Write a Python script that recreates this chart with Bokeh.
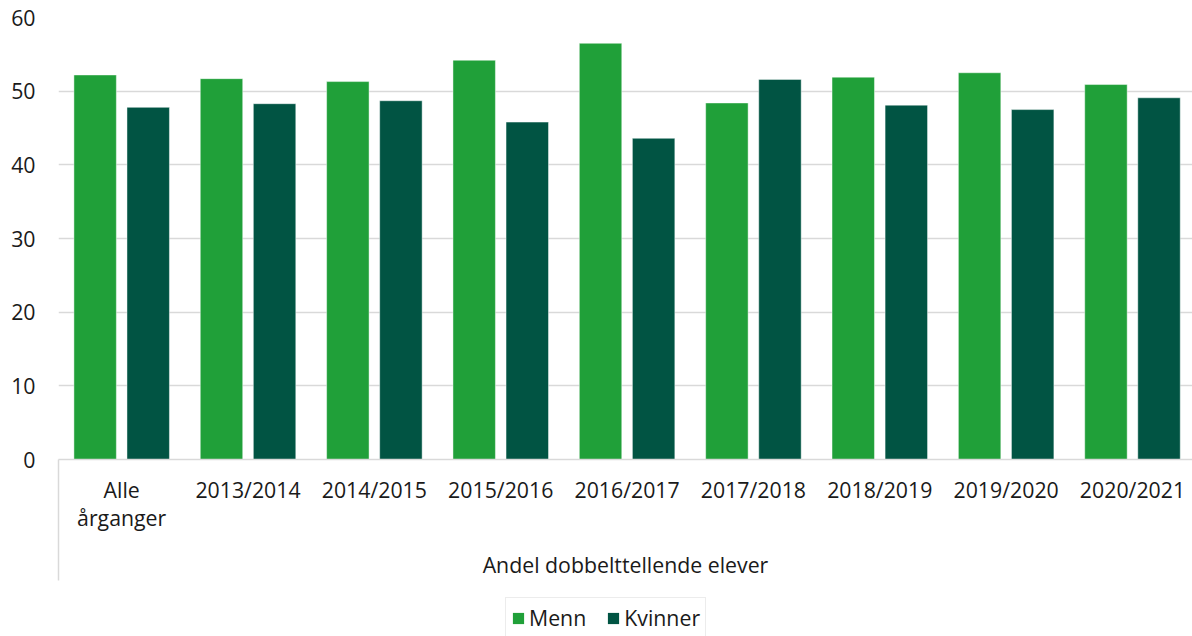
from bokeh.plotting import figure
from bokeh.layouts import column
from bokeh.models import (ColumnDataSource, Range1d, FixedTicker, Legend, LegendItem)
from bokeh.embed import file_html
from bokeh.resources import INLINE

categories = ["Alle\nårganger", "2013/2014", "2014/2015", "2015/2016", "2016/2017",
              "2017/2018", "2018/2019", "2019/2020", "2020/2021"]
menn = [52.2, 51.7, 51.3, 54.2, 56.5, 48.4, 51.9, 52.5, 50.9]
kvinner = [47.8, 48.3, 48.7, 45.8, 43.6, 51.6, 48.1, 47.5, 49.1]
y_ticks = [0, 10, 20, 30, 40, 50, 60]
group_label = "Andel dobbelttellende elever"
series_names = ["Menn", "Kvinner"]
colors = ["#20a039", "#015443"]

FONT = "Open Sans"
TXT = "#1a1a1a"
GRID = "#d9d9d9"
FS = "21.3px"

idx = list(range(len(categories)))
OFF = 0.21
source = ColumnDataSource(data=dict(
    idx=idx,
    xm=[i - OFF for i in idx],
    xk=[i + OFF for i in idx],
    menn=menn, kvinner=kvinner))

p = figure(width=1192, height=590, x_range=Range1d(-0.5, len(categories) - 0.525),
           y_range=Range1d(0, 60), output_backend="svg", toolbar_location=None,
           min_border_left=58, min_border_right=0, min_border_top=17,
           min_border_bottom=131)
p.outline_line_color = None
p.background_fill_color = "white"
p.border_fill_color = "white"

r1 = p.vbar(x="xm", top="menn", width=0.336, source=source, fill_color=colors[0],
            line_color="white", line_alpha=0.45, line_width=1)
r2 = p.vbar(x="xk", top="kvinner", width=0.336, source=source, fill_color=colors[1],
            line_color="white", line_alpha=0.45, line_width=1)

# y axis
p.yaxis.ticker = FixedTicker(ticks=y_ticks)
p.yaxis.axis_line_color = None
p.yaxis.major_tick_line_color = None
p.yaxis.minor_tick_line_color = None
p.yaxis.major_tick_in = 0
p.yaxis.major_tick_out = 0
p.yaxis.major_label_standoff = 23
p.yaxis.major_label_text_font = FONT
p.yaxis.major_label_text_font_size = FS
p.yaxis.major_label_text_color = TXT

p.xgrid.grid_line_color = None
p.ygrid.grid_line_color = GRID
p.ygrid.grid_line_width = 1.5

# category axis (left divider drawn as a long minor tick)
TICK_OUT = 121
xa = p.xaxis[0]
xa.ticker = FixedTicker(ticks=idx, minor_ticks=[-0.5])
xa.major_label_overrides = {i: c for i, c in zip(idx, categories)}
xa.axis_line_color = GRID
xa.axis_line_width = 1.5
xa.major_tick_line_color = None
xa.major_tick_in = 0
xa.major_tick_out = 0
xa.minor_tick_in = 0
xa.minor_tick_out = TICK_OUT
xa.minor_tick_line_color = GRID
xa.minor_tick_line_width = 1.5
xa.major_label_standoff = 15 - TICK_OUT
xa.major_label_text_font = FONT
xa.major_label_text_font_size = FS
xa.major_label_text_color = TXT
xa.major_label_text_line_height = 0.98
xa.axis_label = group_label
xa.axis_label_text_font = FONT
xa.axis_label_text_font_size = FS
xa.axis_label_text_font_style = "normal"
xa.axis_label_text_color = TXT
xa.axis_label_standoff = 15

# legend strip below the chart (its bars lie outside its visible range)
p2 = figure(width=1192, height=46, x_range=Range1d(-0.5, len(categories) - 0.5),
            y_range=Range1d(100, 101), output_backend="svg", toolbar_location=None,
            x_axis_location=None, y_axis_location=None, min_border=0)
p2.outline_line_color = None
p2.grid.visible = False
p2.background_fill_color = "white"
p2.border_fill_color = "white"
k1 = p2.vbar(x="xm", top="menn", width=0.336, source=source, fill_color=colors[0],
             line_color=None)
k2 = p2.vbar(x="xk", top="kvinner", width=0.336, source=source, fill_color=colors[1],
             line_color=None)

legend = Legend(items=[LegendItem(label=series_names[0], renderers=[k1]),
                       LegendItem(label=series_names[1], renderers=[k2])],
                location=(447, -2), orientation="horizontal",
                border_line_color=GRID, border_line_width=1.5,
                padding=5, glyph_width=14, glyph_height=14, label_standoff=4,
                spacing=20, label_text_font=FONT, label_text_font_size=FS,
                label_text_color=TXT, background_fill_color="white",
                background_fill_alpha=1.0, margin=0)
p2.add_layout(legend)

open("out.html", "w").write(file_html(column(p, p2), INLINE))
